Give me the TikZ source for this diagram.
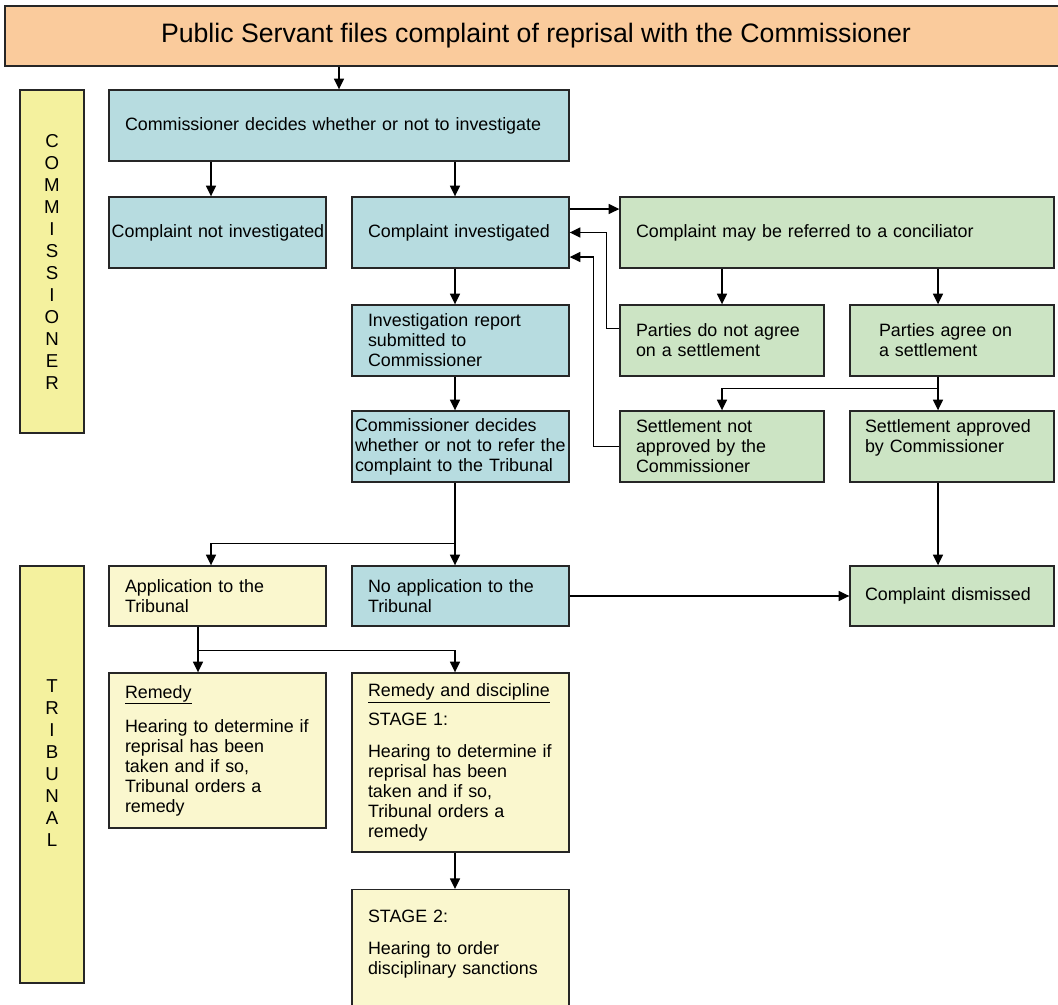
\documentclass[tikz,border=0pt]{standalone}
\usepackage{fontspec}
\setmainfont{Liberation Sans}
\usepackage{tikz}
\usetikzlibrary{shapes,arrows.meta,positioning}

\definecolor{boxblue}{RGB}{183,220,224}
\definecolor{boxgreen}{RGB}{204,228,196}
\definecolor{boxpale}{RGB}{250,247,206}
\definecolor{lblyellow}{RGB}{244,241,158}
\definecolor{bannerorange}{RGB}{250,203,156}

\begin{document}
\begin{tikzpicture}[
    x=0.75pt, y=-0.75pt,
    base/.style={rectangle, draw=black!85, line width=1pt, align=left, font=\fontsize{13.4}{15}\selectfont, inner ysep=2pt, minimum height=53.25pt},
    blue/.style={base, fill=boxblue},
    green/.style={base, fill=boxgreen},
    pale/.style={base, fill=boxpale},
    cell/.style={text width=138.75pt, inner xsep=12pt},
    half/.style={text width=129pt, inner xsep=12pt},
    short/.style={minimum height=45pt},
    side/.style={rectangle, draw=black!85, line width=1pt, fill=lblyellow, minimum width=48pt, align=center, font=\fontsize{14}{16.5}\selectfont},
    banner/.style={rectangle, draw=black!85, line width=1pt, fill=bannerorange, minimum width=796.5pt, minimum height=45pt, font=\fontsize{20}{24}\selectfont},
    arrow/.style={line width=1.1pt, ->, >={Triangle[length=8pt,width=7.5pt]}}
]
\useasboundingbox (0,0) rectangle (1058,1005);

% Header
\node[banner] (top) at (536,36) {Public Servant files complaint of reprisal with the Commissioner};

% Side labels
\node[side, minimum height=257.25pt] (commlbl) at (52,261.5) {C\\O\\M\\M\\I\\S\\S\\I\\O\\N\\E\\R};
\node[side, minimum height=312.75pt] (triblbl) at (52,774.5) {T\\R\\I\\B\\U\\N\\A\\L\\\mbox{}};

% Commissioner stage
\node[blue, text width=321pt, inner xsep=12pt] (decide) at (339,125.5) {Commissioner decides whether or not to investigate};
\node[blue, text width=158.75pt, inner xsep=2pt] (notinv) at (217.5,232.5) {\mbox{Complaint not investigated}};
\node[blue, cell] (inv) at (460.5,232.5) {Complaint investigated};
\node[blue, cell] (report) at (460.5,340.5) {Investigation report\\submitted to\\Commissioner};
\node[blue, text width=158.25pt, inner xsep=2.25pt] (refer) at (460.5,446.5) {Commissioner decides\\whether or not to refer the\\complaint to the Tribunal};

% Conciliation
\node[green, text width=301.5pt, inner xsep=12pt] (concil) at (837,232.5) {Complaint may be referred to a conciliator};
\node[green, half] (nodisagree) at (722,340.5) {Parties do not agree\\on a settlement};
\node[green, text width=109.5pt, inner xsep=21.75pt] (agree) at (952,340.5) {Parties agree on\\a settlement};
\node[green, half] (notappr) at (722,446.5) {Settlement not\\approved by the\\Commissioner};
\node[green, text width=130.5pt, inner xsep=11.25pt] (appr) at (952,446.5) {Settlement approved\\by Commissioner\\\mbox{}};

% Tribunal stage
\node[pale, cell, short] (app) at (217.5,596) {Application to the\\Tribunal};
\node[blue, cell, short] (noapp) at (460.5,596) {No application to the\\Tribunal};
\node[green, short, text width=130.5pt, inner xsep=11.25pt] (dismissed) at (952,596) {Complaint dismissed};

\node[pale, cell, minimum height=116.25pt] (remedy) at (217.5,750.5) {\underline{Remedy}\\[10.5pt]Hearing to determine if\\reprisal has been\\taken and if so,\\Tribunal orders a\\remedy};
\node[pale, cell, minimum height=134.25pt] (remdisc) at (460.5,762.5) {\underline{Remedy and discipline}\\[6.75pt]STAGE 1:\\[9pt]Hearing to determine if\\reprisal has been\\taken and if so,\\Tribunal orders a\\remedy};
\node[pale, cell, anchor=north, inner ysep=14pt, text depth=100pt] (stage2) at (460.5,889) {\strut STAGE 2:\\[9pt]Hearing to order\\disciplinary sanctions};

% Columns used by the vertical links
\coordinate (lcol) at (211,0);
\coordinate (acol) at (198,0);
\coordinate (mcol) at (455,0);
\coordinate (rcol) at (938,0);

% Commissioner flow
\draw[arrow] (top.south -| decide.north) -- (decide.north);
\draw[arrow] (decide.south -| lcol) -- (notinv.north -| lcol);
\draw[arrow] (decide.south -| mcol) -- (inv.north -| mcol);
\draw[arrow] (inv.south -| mcol) -- (report.north -| mcol);
\draw[arrow] (report.south -| mcol) -- (refer.north -| mcol);

% Conciliation loop
\draw[arrow] ([yshift=17.6pt]inv.east) -- ([yshift=17.6pt]inv.east -| concil.west);
\draw[arrow] (concil.south -| nodisagree.north) -- (nodisagree.north);
\draw[arrow] (concil.south -| rcol) -- (agree.north -| rcol);
\draw[arrow] (agree.south -| rcol) -- (appr.north -| rcol);
\draw[arrow] (agree.south -| rcol) ++(0,12) -| (notappr.north);
\draw[arrow] ([yshift=9pt]nodisagree.west) -- ++(-13,0) |- (inv.east);
\draw[arrow] (notappr.west) -- ++(-26,0) |- ([yshift=-18.4pt]inv.east);

% Referral to the Tribunal
\draw[arrow] (refer.south -| mcol) -- (noapp.north -| mcol);
\draw[arrow] (refer.south -| mcol) ++(0,61) -| (app.north -| lcol);
\draw[arrow] (noapp.east) -- (dismissed.west);
\draw[arrow] (appr.south -| rcol) -- (dismissed.north -| rcol);
\draw[arrow] (app.south -| acol) -- (remedy.north -| acol);
\draw[arrow] (app.south -| acol) ++(0,24) -| (remdisc.north -| mcol);
\draw[arrow] (remdisc.south -| mcol) -- (stage2.north -| mcol);

\end{tikzpicture}
\end{document}
